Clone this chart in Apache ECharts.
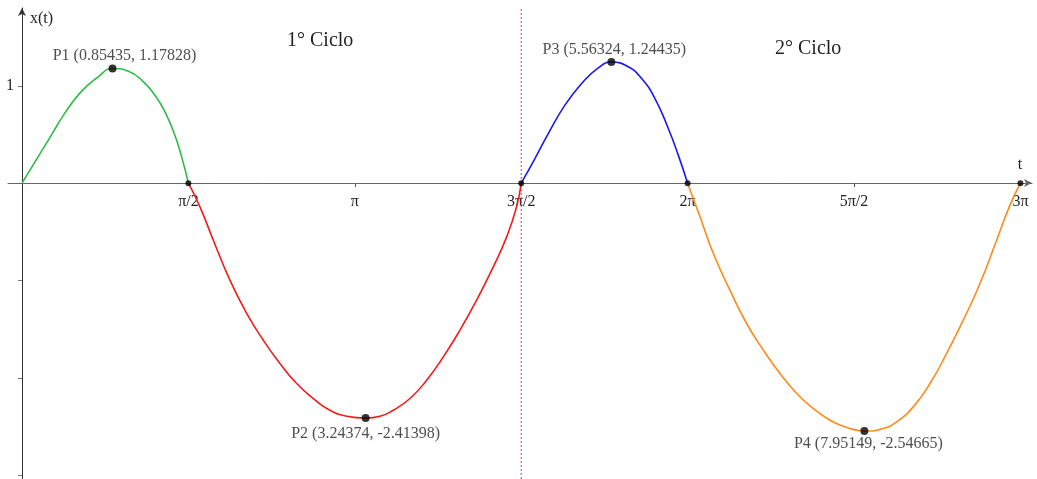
<!DOCTYPE html>
<html>
<head>
<meta charset="utf-8">
<script src="https://cdn.jsdelivr.net/npm/echarts@6/dist/echarts.min.js"></script>
<style>
  html, body { margin: 0; padding: 0; background: #fff; }
  #grafico { width: 1037px; height: 479px; }
</style>
</head>
<body>
<div id="grafico"></div>
<script>
const PI = Math.PI

// pontos: [t, x(t)]
const verde = [[0, 0], [0.12, 0.214], [0.249, 0.443], [0.406, 0.722], [0.563, 0.946], [0.720, 1.093], [0.85435, 1.17828],
  [1.004, 1.151], [1.130, 1.059], [1.255, 0.904], [1.350, 0.733], [1.444, 0.49], [1.507, 0.27], [PI / 2, 0]]
const vermelho = [[PI / 2, 0], [1.680, -0.243], [1.806, -0.586], [1.963, -0.997], [2.121, -1.339], [2.278, -1.614],
  [2.435, -1.853], [2.593, -2.059], [2.750, -2.213], [2.907, -2.333], [3.065, -2.395], [3.24374, -2.41398],
  [3.379, -2.395], [3.505, -2.333], [3.662, -2.213], [3.820, -2.025], [3.977, -1.785], [4.134, -1.511],
  [4.292, -1.202], [4.449, -0.860], [4.575, -0.552], [4.669, -0.243], [3 * PI / 2, 0]]
const azul = [[3 * PI / 2, 0], [4.842, 0.253], [4.968, 0.510], [5.125, 0.802], [5.283, 1.024], [5.440, 1.185],
  [5.56324, 1.24435], [5.723, 1.196], [5.849, 1.076], [5.975, 0.870], [6.101, 0.562], [6.195, 0.288], [2 * PI, 0]]
const laranja = [[2 * PI, 0], [6.400, -0.346], [6.526, -0.723], [6.683, -1.100], [6.840, -1.442], [6.998, -1.716],
  [7.155, -1.956], [7.313, -2.161], [7.470, -2.316], [7.627, -2.436], [7.785, -2.511], [7.95149, -2.54665],
  [8.130, -2.521], [8.256, -2.453], [8.413, -2.299], [8.571, -2.059], [8.728, -1.750], [8.885, -1.408],
  [9.043, -1.031], [9.200, -0.586], [9.326, -0.226], [3 * PI, 0]]

// pontos notáveis
const extremos = [
  { nome: 'P1', t: 0.85435, x: 1.17828 },
  { nome: 'P2', t: 3.24374, x: -2.41398 },
  { nome: 'P3', t: 5.56324, x: 1.24435 },
  { nome: 'P4', t: 7.95149, x: -2.54665 }
]
const zeros = [PI / 2, 3 * PI / 2, 2 * PI, 3 * PI]

// marcas e limites dos eixos
const limitesT = [-0.132, 9.534]
const limitesX = [-3.04, 1.80]
const ticksT = [PI / 2, PI, 3 * PI / 2, 2 * PI, 5 * PI / 2, 3 * PI]
const rotulosT = ['π/2', 'π', '3π/2', '2π', '5π/2', '3π']
const ticksX = [-3, -2, -1, 1]
const ciclos = ['1° Ciclo', '2° Ciclo']
const fimCiclo1 = 3 * PI / 2

const fonte = 'Liberation Serif'

function rotuloT(v) {
  for (let i = 0; i < ticksT.length; i++) {
    if (Math.abs(v - ticksT[i]) < 1e-6) return rotulosT[i]
  }
  return ''
}

// posição de cada rótulo dos extremos
const estiloRotulo = [
  { position: 'top', distance: 1, offset: [12, 0] },
  { position: 'bottom', distance: 4, offset: [0, 0] },
  { position: 'top', distance: 0, offset: [3, 0] },
  { position: 'bottom', distance: 1, offset: [4, 0] }
]

const dadosExtremos = extremos.map((p, i) => ({
  value: [p.t, p.x],
  label: Object.assign({
    show: true,
    formatter: p.nome + ' (' + p.t + ', ' + p.x + ')'
  }, estiloRotulo[i])
}))

const chart = echarts.init(document.getElementById('grafico'), null, { renderer: 'canvas' })

const option = {
  backgroundColor: '#fff',
  animation: false,
  textStyle: { fontFamily: fonte },
  grid: { left: 8, right: 5, top: 8, bottom: 0, containLabel: false, outerBoundsMode: 'none' },
  xAxis: {
    type: 'value',
    min: limitesT[0],
    max: limitesT[1],
    position: 'bottom',
    offset: -296, // eixo passa por x(t) = 0
    splitLine: { show: false },
    name: 't',
    nameLocation: 'end',
    nameGap: -12,
    nameTextStyle: { fontFamily: fonte, fontSize: 16, color: '#222', align: 'center', verticalAlign: 'bottom', padding: [0, 0, 10, 0] },
    axisLine: {
      onZero: false,
      lineStyle: { color: '#666', width: 1 },
      symbol: ['none', 'arrow'],
      symbolSize: [6, 8]
    },
    axisTick: { show: true, inside: false, length: 4, customValues: [PI, 5 * PI / 2], lineStyle: { color: '#555' } },
    axisLabel: {
      show: true, margin: 11, customValues: ticksT, formatter: rotuloT,
      fontFamily: fonte, fontSize: 16, color: '#222'
    }
  },
  yAxis: {
    type: 'value',
    min: limitesX[0],
    max: limitesX[1],
    position: 'left',
    offset: -14, // eixo passa por t = 0
    splitLine: { show: false },
    name: 'x(t)',
    nameLocation: 'end',
    nameGap: -3,
    nameTextStyle: { fontFamily: fonte, fontSize: 16, color: '#222', align: 'left', verticalAlign: 'top', padding: [0, 0, 0, 8] },
    axisLine: {
      onZero: false,
      lineStyle: { color: '#333', width: 1 },
      symbol: ['none', 'arrow'],
      symbolSize: [6, 8]
    },
    axisTick: { show: true, inside: false, length: 4, customValues: ticksX, lineStyle: { color: '#777' } },
    axisLabel: {
      show: true, margin: 8, customValues: [1], formatter: v => String(v),
      fontFamily: fonte, fontSize: 16, color: '#222'
    }
  },
  graphic: [
    { type: 'text', left: 287, top: 31, style: { text: ciclos[0], font: '20px "' + fonte + '"', fill: '#222' } },
    { type: 'text', left: 775, top: 39, style: { text: ciclos[1], font: '20px "' + fonte + '"', fill: '#222' } }
  ],
  series: [
    {
      // separação dos ciclos
      type: 'line', data: limitesX.map(x => [fimCiclo1, x]), showSymbol: false, z: 1,
      lineStyle: { color: '#e8306a', type: [2, 2], width: 1 }
    },
    {
      type: 'line', data: verde, smooth: true, showSymbol: false,
      lineStyle: { color: '#2dbb48', width: 1.6 }
    },
    {
      type: 'line', data: vermelho, smooth: true, showSymbol: false,
      lineStyle: { color: '#f41a1a', width: 1.6 }
    },
    {
      type: 'line', data: azul, smooth: true, showSymbol: false,
      lineStyle: { color: '#1a1aee', width: 1.6 }
    },
    {
      type: 'line', data: laranja, smooth: true, showSymbol: false,
      lineStyle: { color: '#ff8a1a', width: 1.6 }
    },
    {
      type: 'scatter', data: zeros.map(t => [t, 0]), symbol: 'circle', symbolSize: 6,
      itemStyle: { color: '#000' }, z: 5
    },
    {
      type: 'scatter', data: dadosExtremos, symbol: 'circle', symbolSize: 8,
      itemStyle: { color: '#000' }, z: 6,
      label: { fontFamily: fonte, fontSize: 16, color: '#222' }
    }
  ]
}

chart.setOption(option)
</script>
</body>
</html>
